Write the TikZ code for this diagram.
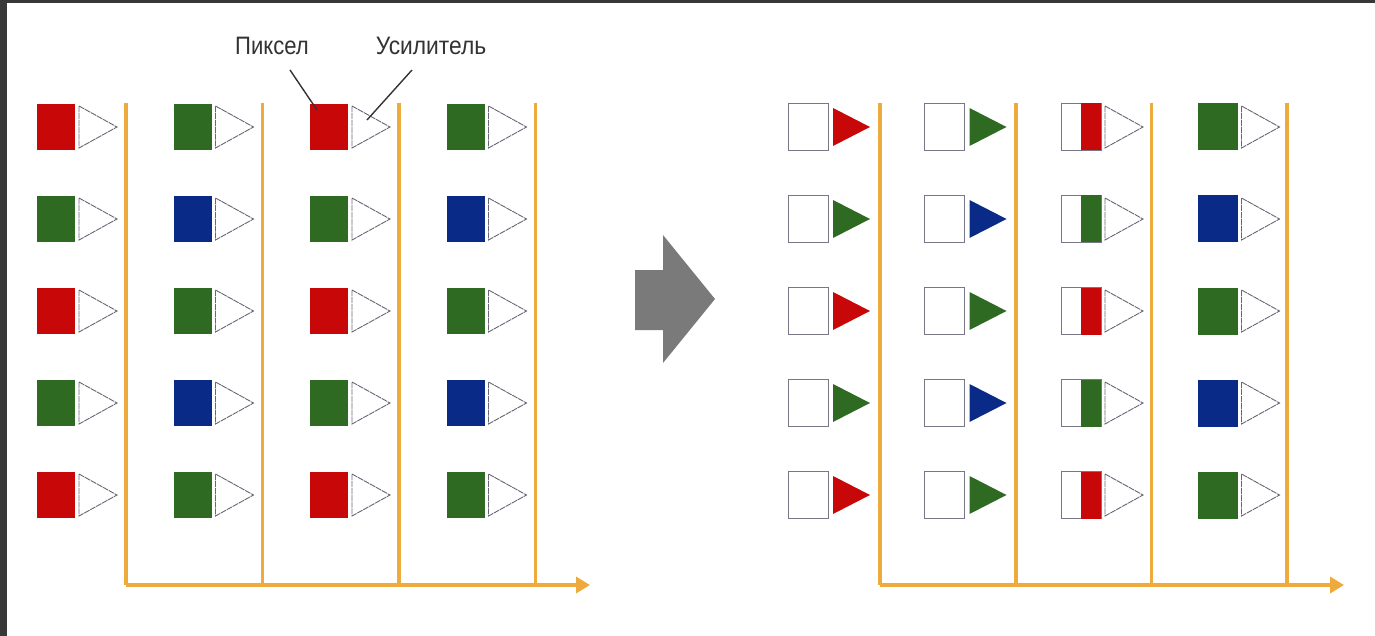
\documentclass[tikz,border=0pt]{standalone}
\usepackage{fontspec}
\setmainfont{Liberation Sans}
\usetikzlibrary{arrows.meta}

\definecolor{pxred}{HTML}{C80808}
\definecolor{pxgreen}{HTML}{2E6A22}
\definecolor{pxblue}{HTML}{0A2A88}
\definecolor{bus}{HTML}{EEAA3C}
\definecolor{frame}{HTML}{383838}
\definecolor{outline}{HTML}{555566}
\definecolor{bigarrow}{HTML}{7A7A7A}

\tikzset{
  pix/.style={rectangle, inner sep=0pt, minimum width=38pt, minimum height=46pt, draw=none},
  emptypix/.style={rectangle, inner sep=0pt, minimum width=40pt, minimum height=47pt,
    draw=outline!80, line width=0.8pt, fill=white},
  ampline/.style={draw=outline!90, line width=0.9pt, dash pattern=on 6pt off 0.8pt},
  busline/.style={draw=bus, line width=3.6pt},
  busaxis/.style={draw=bus, line width=3.6pt, -{Triangle[length=14pt, width=16pt]}},
  lbl/.style={inner sep=0pt, text=black!80, font=\fontsize{24}{24}\selectfont},
  pointer/.style={draw=black!80, line width=1.4pt}
}

\begin{document}
\begin{tikzpicture}[x=1pt, y=-1pt]
  \useasboundingbox (0,0) rectangle (1375,636);
  \fill[white] (0,0) rectangle (1375,636);
  % dark frame on the top and left edges
  \fill[frame] (0,0) rectangle (1375,3);
  \fill[frame] (0,0) rectangle (7,636);

  % ---------------- left panel: pixels with their amplifiers ----------------
  \foreach \c in {0,...,3} {
    \pgfmathsetmacro{\xs}{37+136.5*\c}
    \foreach \r in {0,...,4} {
      \pgfmathsetmacro{\yc}{127+92*\r}
      \pgfmathtruncatemacro{\odd}{mod(\r,2)}
      \pgfmathtruncatemacro{\oddc}{mod(\c,2)}
      \ifnum\oddc=0
        \ifnum\odd=0 \def\pc{pxred}\else\def\pc{pxgreen}\fi
      \else
        \ifnum\odd=0 \def\pc{pxgreen}\else\def\pc{pxblue}\fi
      \fi
      \node[pix, fill=\pc] (L-\c-\r) at (\xs+19, \yc) {};
      \draw[ampline, fill=white] (\xs+42, \yc-21) -- (\xs+80, \yc) -- (\xs+42, \yc+21) -- cycle;
    }
    \coordinate (LT-\c) at (126+136.5*\c, 103);
    \coordinate (LB-\c) at (126+136.5*\c, 585);
    \draw[busline] (LT-\c) -- (LB-\c);
  }
  \coordinate (LEnd) at (590, 585);
  \draw[busaxis] (LB-0) -- (LEnd);

  % labels with pointers
  \node[lbl] (pixlbl) at (272, 46) {\scalebox{0.92}[1.05]{Пиксел}};
  \node[lbl] (amplbl) at (431, 46) {\scalebox{0.95}[1.05]{Усилитель}};
  \coordinate (pixfrom) at (290, 70);
  \coordinate (pixto) at (317, 110);
  \coordinate (ampfrom) at (412, 70);
  \coordinate (ampto) at (367, 120);
  \draw[pointer] (pixfrom) -- (pixto);
  \draw[pointer] (ampfrom) -- (ampto);

  % ---------------- transition arrow ----------------
  \fill[bigarrow] (635,270) -- (663,270) -- (663,235) -- (715,299)
    -- (663,363) -- (663,330) -- (635,330) -- cycle;

  % ---------------- right panel: readout state ----------------
  \foreach \c in {0,...,3} {
    \pgfmathsetmacro{\xs}{788+136.5*\c}
    \foreach \r in {0,...,4} {
      \pgfmathsetmacro{\yc}{127+92*\r}
      \pgfmathtruncatemacro{\odd}{mod(\r,2)}
      \pgfmathtruncatemacro{\oddc}{mod(\c,2)}
      \ifnum\oddc=0
        \ifnum\odd=0 \def\pc{pxred}\else\def\pc{pxgreen}\fi
      \else
        \ifnum\odd=0 \def\pc{pxgreen}\else\def\pc{pxblue}\fi
      \fi
      \ifnum\c<2
        % emptied pixel, charge sits in the amplifier
        \node[emptypix] (R-\c-\r) at (\xs+20, \yc) {};
        \fill[\pc] (\xs+45, \yc-19) -- (\xs+82, \yc) -- (\xs+45, \yc+19) -- cycle;
      \else
        \ifnum\c=2
          % half-transferred pixel
          \node[emptypix] (R-\c-\r) at (\xs+20, \yc) {};
          \fill[\pc] (\xs+20, \yc-23.5) rectangle (\xs+40, \yc+23.5);
        \else
          \node[pix, minimum width=40pt, minimum height=47pt, fill=\pc] (R-\c-\r) at (\xs+20, \yc) {};
        \fi
        \draw[ampline, fill=white] (\xs+44, \yc-21) -- (\xs+82, \yc) -- (\xs+44, \yc+21) -- cycle;
      \fi
    }
    \coordinate (RT-\c) at (880+135.7*\c, 103);
    \coordinate (RB-\c) at (880+135.7*\c, 585);
    \draw[busline] (RT-\c) -- (RB-\c);
  }
  \coordinate (REnd) at (1344, 585);
  \draw[busaxis] (RB-0) -- (REnd);
\end{tikzpicture}
\end{document}
